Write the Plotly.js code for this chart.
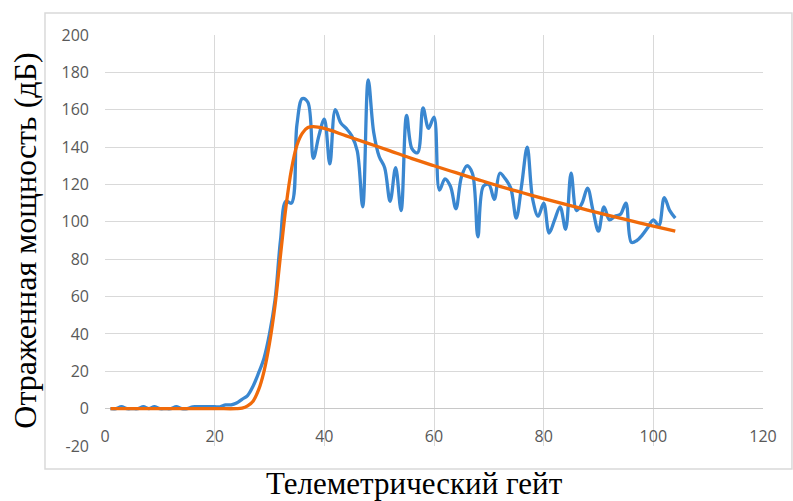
<!DOCTYPE html>
<html>
<head>
<meta charset="utf-8">
<script src="https://cdn.plot.ly/plotly-3.0.1.min.js"></script>
<style>html,body{margin:0;padding:0;background:#fff;}#chart{width:793px;height:501px;}</style>
</head>
<body>
<div id="chart"></div>
<script>
// Telemetry gate numbers (x) and measured reflected power (blue)
const gates = [1,2,3,4,5,6,7,8,9,10,11,12,13,14,15,16,17,18,19,20,
  21,22,23,24,25,26,27,28,29,30,31,32,33,34,35,36,37,38,39,40,
  41,42,43,44,45,46,47,48,49,50,51,52,53,54,55,56,57,58,59,60,
  61,62,63,64,65,66,67,68,69,70,71,72,73,74,75,76,77,78,79,80,
  81,82,83,84,85,86,87,88,89,90,91,92,93,94,95,96,97,98,99,100,
  101,102,103,104];
const measured = [0,0,1,0,0,0,1,0,1,0,0,0,1,0,0,1,1,1,1,1,
  1,2,2,3,5,7,12,19,27,40,58,90,111,110,152,166,164,134,146,155,
  131,160,153,150,146,138,108,176,148,135,129,111,129,106,157,139,137,161,150,156,
  117,123,119,107,124,130,126,92,119,120,112,126,123,118,102,120,140,112,103,110,
  94,101,108,96,126,106,110,118,106,95,108,101,103,104,110,89,90,93,97,101,
  98,113,106,102];
// Fitted model curve (orange)
const fitGates = [1,10,20,24,25,26,27,28,29,30,31,32,33,34,35,36,37,38,40,44,
  48,52,56,60,64,68,72,76,80,84,88,92,96,100,104];
const fitted = [0,0,0,0,0.3,1.5,4,10,20,35,55,82,108,128,141,147.5,150.5,151,150,146,
  142,138,133.8,130,126.3,122.6,119,115.7,112.4,109.3,106.3,103.3,100.5,97.7,95];
const xTicks = [0,20,40,60,80,100,120];
const yTicks = [-20,0,20,40,60,80,100,120,140,160,180,200];
const xTitle = 'Телеметрический гейт';
const yTitle = 'Отраженная мощность (дБ)';

const tickFont = {family: 'Open Sans, Liberation Sans, sans-serif', size: 16, color: '#595959'};
const xTitleFont = {family: 'Liberation Serif, Times New Roman, serif', size: 31, color: '#000'};
const yTitleFont = {family: 'Liberation Serif, Times New Roman, serif', size: 32, color: '#000'};

const data = [
  {x: gates, y: measured, type: 'scatter', mode: 'lines',
   line: {color: '#3a87d0', width: 3.3, shape: 'spline', smoothing: 1}, hoverinfo: 'skip'},
  {x: fitGates, y: fitted, type: 'scatter', mode: 'lines',
   line: {color: '#f06a0a', width: 3.3, shape: 'spline', smoothing: 1}, hoverinfo: 'skip'},
  {x: [0], y: [0], xaxis: 'x2', type: 'scatter', mode: 'markers', marker: {opacity: 0}, hoverinfo: 'skip'}
];

const layout = {
  width: 793, height: 501,
  margin: {l: 105, r: 30, t: 35, b: 55},
  paper_bgcolor: '#fff', plot_bgcolor: '#fff',
  showlegend: false,
  xaxis: {
    range: [0, 120], tickvals: xTicks, showticklabels: false,
    showgrid: true, gridcolor: '#d9d9d9', gridwidth: 1, zeroline: false,
    showline: false, ticks: '', fixedrange: true, automargin: false
  },
  xaxis2: {
    overlaying: 'x', matches: 'x', anchor: 'free', position: 20/220, side: 'bottom',
    range: [0, 120], tickvals: xTicks, ticktext: xTicks.map(String),
    showgrid: false, zeroline: false, showline: false, ticks: '',
    ticklabelstandoff: 16, tickfont: tickFont, automargin: false
  },
  yaxis: {
    range: [-20, 200], tickvals: yTicks, ticktext: yTicks.map(String),
    showgrid: true, gridcolor: '#d9d9d9', gridwidth: 1,
    zeroline: true, zerolinecolor: '#c8c8c8', zerolinewidth: 1,
    showline: false, ticks: '', tickfont: tickFont, ticklabelstandoff: 15,
    fixedrange: true, automargin: false,
    title: {text: yTitle, font: yTitleFont, standoff: 15}
  },
  annotations: [{
    text: xTitle, font: xTitleFont, showarrow: false,
    xref: 'paper', yref: 'paper', x: 0.471, y: -0.092,
    xanchor: 'center', yanchor: 'middle'
  }],
  shapes: [{
    type: 'rect', xref: 'paper', yref: 'paper',
    x0: -0.0912, x1: 1.044, y0: -0.056, y1: 1.0535,
    line: {color: '#d9d9d9', width: 1.5}, fillcolor: 'rgba(0,0,0,0)', layer: 'below'
  }]
};

Plotly.newPlot('chart', data, layout, {staticPlot: true, displayModeBar: false});
</script>
</body>
</html>
